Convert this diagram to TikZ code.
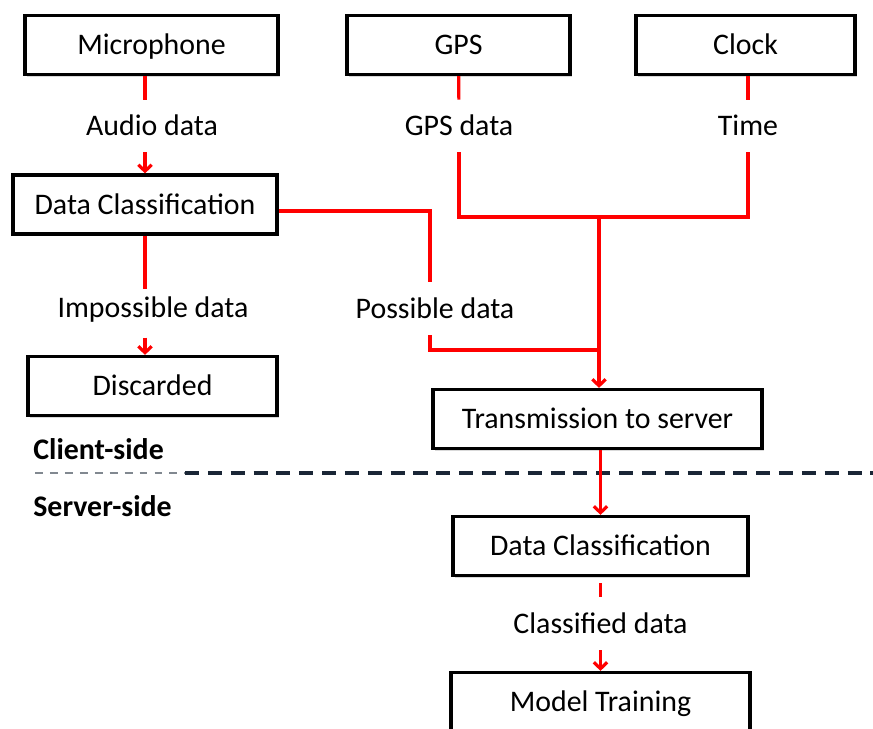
\documentclass[tikz,border=0pt]{standalone}
\usepackage{fontspec}
\setmainfont{Carlito}
\usetikzlibrary{arrows.meta,shadows}
\definecolor{sepnavy}{RGB}{26,38,54}
\tikzset{
  box/.style={draw=black,line width=1.8pt,fill=white,minimum height=1.18cm,
    text height=10.95pt,text depth=0pt,inner sep=0pt,
    drop shadow={shadow xshift=1.2pt,shadow yshift=-1.2pt,opacity=0.3}},
  lbl/.style={inner xsep=2pt,inner ysep=9.4pt,text height=10.95pt,text depth=0pt},
  link/.style={draw=red,line width=1.8pt},
  side/.style={font=\fontsize{17}{20}\selectfont\bfseries,anchor=west,inner sep=0pt,
    text height=10.95pt,text depth=0pt}
}
\begin{document}
\begin{tikzpicture}[>={Straight Barb[length=3.7pt,width=7.6pt]},x=0.2mm,y=-0.2mm,
  font=\fontsize{17}{20}\selectfont]
\useasboundingbox (0,0) rectangle (873,728);
%Hang tren
\node[box,minimum width=5.06cm] (mic) at (151.5,45) {Microphone};
\node[box,minimum width=4.46cm] (gps) at (458.5,45) {GPS};
\node[box,minimum width=4.38cm] (clock) at (745.5,45) {Clock};
\node[lbl] (audio) at (152,126) {Audio data};
\node[lbl] (gpsdata) at (459,126) {GPS data};
\node[lbl] (time) at (748,126) {Time};
%Phia client
\node[box,minimum width=5.28cm] (dc1) at (145,204.5) {Data Classification};
\node[lbl,inner ysep=4.6pt] (impossible) at (153,307.5) {Impossible data};
\node[lbl] (possible) at (435,308.5) {Possible data};
\node[box,minimum width=4.98cm] (disc) at (152.5,386) {Discarded};
\node[box,minimum width=6.58cm] (trans) at (597.5,419) {Transmission to server};
%Duong phan cach
\node[side] (client) at (33,450) {Client-side};
\node[side] (server) at (33,507) {Server-side};
\coordinate (sepA) at (35,473);
\coordinate (sepB) at (185,473);
\coordinate (sepC) at (873,473);
\draw[draw=sepnavy!55,line width=1.1pt,dash pattern=on 4.5pt off 4pt] (sepA) -- (sepB);
\draw[draw=sepnavy,line width=2.3pt,dash pattern=on 8pt off 5pt] (sepB) -- (sepC);
%Phia server
\node[box,minimum width=5.9cm] (dc2) at (600.5,546) {Data Classification};
\node[lbl] (classified) at (600.5,623.5) {Classified data};
\node[box,minimum width=5.98cm] (model) at (600.5,702) {Model Training};
%Mui ten
\coordinate (join) at (599,217);
\coordinate (merge) at (599,350);
\draw[link] (mic.south -| dc1) -- (audio.north -| dc1);
\draw[link,->] (audio.south -| dc1) -- (dc1.north);
\draw[link] (gps) -- (gpsdata);
\draw[link] (clock.south -| time) -- (time);
\draw[link] (gpsdata) |- (join);
\draw[link] (time) |- (join);
\draw[link,->] (join) -- (join |- trans.north);
\draw[link] ([yshift=-1.3mm]dc1.east) -| ([xshift=-1mm]possible.north);
\draw[link] ([xshift=-1mm]possible.south) |- (merge);
\draw[link] (dc1) -- (impossible.north -| dc1);
\draw[link,->,shorten <=2.4mm] (impossible.south -| dc1) -- (disc.north -| dc1);
\draw[link,->] (trans.south -| dc2) -- (dc2.north);
\draw[link,shorten <=1.2mm] (dc2) -- (classified);
\draw[link,->] (classified) -- (model);
\end{tikzpicture}
\end{document}
